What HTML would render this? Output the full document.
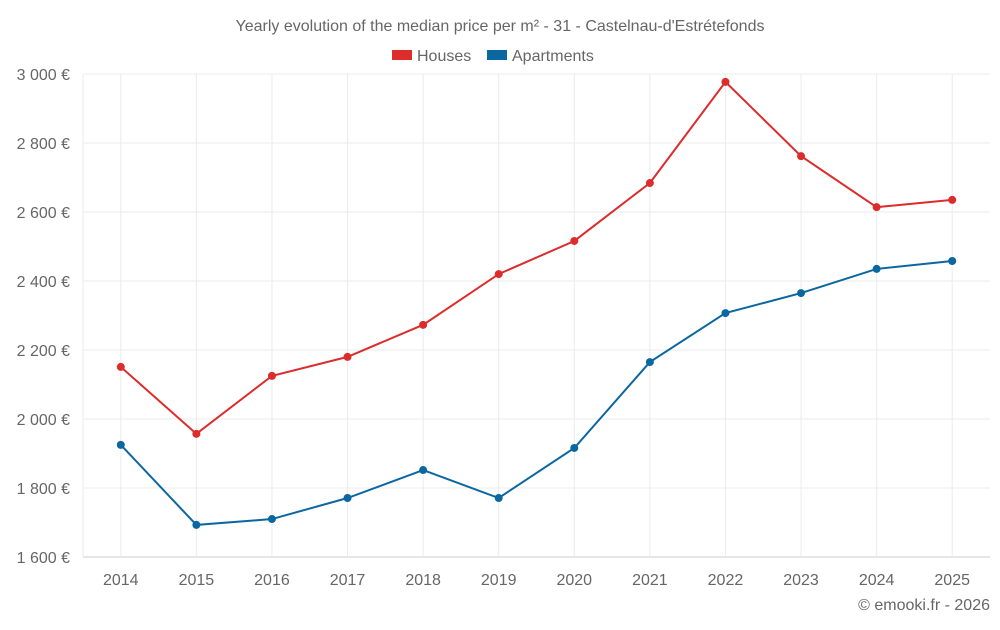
<!DOCTYPE html>
<html><head><meta charset="utf-8"><style>
body{margin:0;background:#fff;font-family:"Liberation Sans",sans-serif;}
svg text{font-family:"Liberation Sans",sans-serif;fill:#666;}
</style></head><body>
<svg id="chart" width="1000" height="625">
<text x="500" y="31" text-anchor="middle" font-size="16">Yearly evolution of the median price per m² - 31 - Castelnau-d'Estrétefonds</text>
<g>
<g><rect x="392" y="50" width="20" height="10" fill="#dc2c2c"/><text x="417" y="61" font-size="16">Houses</text></g>
<g><rect x="487" y="50" width="20" height="10" fill="#0b67a0"/><text x="512" y="61" font-size="16">Apartments</text></g>
</g>
<g id="grid"></g><g id="axes"></g><g id="series"></g>
<text x="990" y="610" text-anchor="end" font-size="16">© emooki.fr - 2026</text>
</svg>
<script>
const years=["2014","2015","2016","2017","2018","2019","2020","2021","2022","2023","2024","2025"];
const houses=[2151,1957,2125,2180,2273,2420,2516,2684,2977,2762,2614,2635];
const apartments=[1925,1693,1710,1771,1852,1771,1916,2165,2307,2365,2435,2458];
const yTicks=[1600,1800,2000,2200,2400,2600,2800,3000];
const yTickLabels=["1 600 €","1 800 €","2 000 €","2 200 €","2 400 €","2 600 €","2 800 €","3 000 €"];
const L=83,R=990,T=74,B=557,yMin=1600,yMax=3000;
const step=(R-L)/years.length;
const x=i=>L+step*(i+0.5);
const y=v=>B-(v-yMin)/(yMax-yMin)*(B-T);
const NS="http://www.w3.org/2000/svg";
function mk(tag,attrs,parent){const e=document.createElementNS(NS,tag);for(const k in attrs)e.setAttribute(k,attrs[k]);document.getElementById(parent).appendChild(e);return e;}
yTicks.forEach((t,i)=>{
 const g=mk('line',{x1:L,x2:R,y1:y(t),y2:y(t),stroke:i==0?'#ccc':'#ebebeb'},'grid');
 
 
 const tx=mk('text',{x:L-13,y:y(t)+6,'text-anchor':'end','font-size':16},'axes');
 tx.textContent=yTickLabels[i];
 
 
});
const lg=mk('line',{x1:L,x2:L,y1:T,y2:B,stroke:'#ebebeb'},'grid');


years.forEach((yr,i)=>{
 const g=mk('line',{x1:x(i),x2:x(i),y1:T,y2:B,stroke:'#ebebeb'},'grid');
 
 
 const tx=mk('text',{x:x(i),y:B+28,'text-anchor':'middle','font-size':16},'axes');
 tx.textContent=yr;
 
 
});
function series(vals,color,name){
 const p=mk('polyline',{points:vals.map((v,i)=>x(i)+','+y(v)).join(' '),fill:'none',stroke:color,'stroke-width':2},'series');
 
 
 vals.forEach((v,i)=>{
  const c=mk('circle',{cx:x(i),cy:y(v),r:4,fill:color},'series');
  
  
 });
}
series(houses,'#dc2c2c','houses');
series(apartments,'#0b67a0','apartments');
</script>
</body></html>
